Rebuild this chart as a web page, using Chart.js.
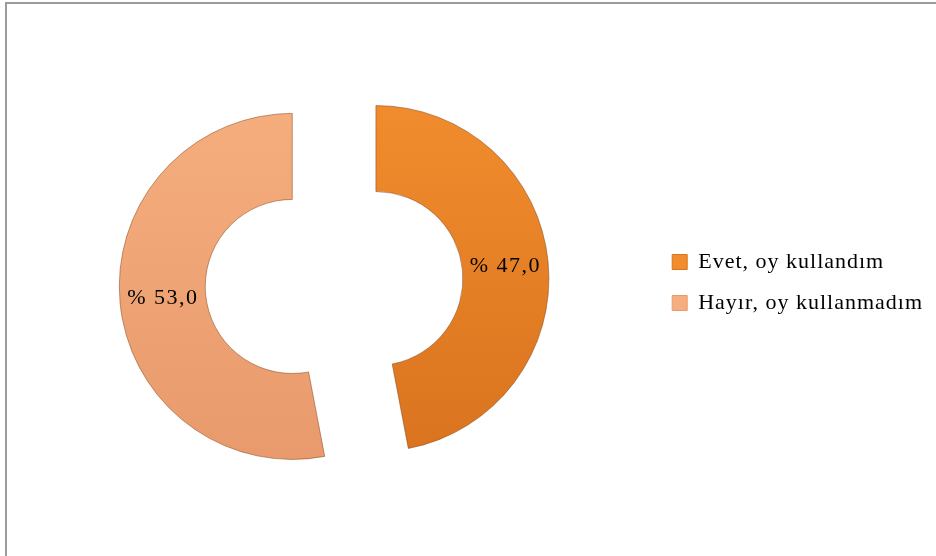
<!DOCTYPE html>
<html>
<head>
<meta charset="utf-8">
<script src="https://cdn.jsdelivr.net/npm/chart.js@4/dist/chart.umd.min.js"></script>
<style>
  body { margin: 0; background: #fff; overflow: hidden; }
  #wrap { position: relative; width: 936px; height: 556px; overflow: hidden; }
  #frame { position: absolute; left: 5px; top: 2px; right: 0; bottom: 0;
           border-top: 2px solid #9b9b9b; border-left: 2px solid #9b9b9b; }
  #voteChart { position: absolute; left: -10px; top: 0; }
</style>
</head>
<body>
<div id="wrap">
  <div id="frame"></div>
  <canvas id="voteChart" width="946" height="556"></canvas>
</div>
<script>
// Oy kullanma durumu (%)
const labels = ["Evet, oy kullandım", "Hayır, oy kullanmadım"];
const shares = [47.0, 53.0];
const colorsTop = ["#F28D2E", "#F6AE7E"];
const colorsBottom = ["#D9731E", "#E89A6C"];
// how far each slice is pulled out of the ring (px)
const explode = [42, 42];

// letter spacing like the original text, reset after every canvas resize
const spacing = {
    id: 'spacing',
    beforeLayout(chart) { chart.ctx.letterSpacing = '1px'; },
    beforeDraw(chart) { chart.ctx.letterSpacing = '1px'; }
};

// pull slices apart without Chart.js' offset (which also grows/trims the arc)
const explodeSlices = {
    id: 'explodeSlices',
    afterDatasetsUpdate(chart) {
        chart.getDatasetMeta(0).data.forEach(function(arc, i) {
            if (arc._exploded) return;
            arc._exploded = true;
            const baseDraw = arc.draw;
            arc.draw = function(ctx, area) {
                const mid = (this.startAngle + this.endAngle) / 2;
                ctx.save();
                ctx.translate(Math.cos(mid) * explode[i], Math.sin(mid) * explode[i]);
                baseDraw.call(this, ctx, area);
                ctx.restore();
            };
        });
    }
};

// "% 47,0" labels in the middle of each slice
const sliceLabels = {
    id: 'sliceLabels',
    afterDatasetsDraw(chart) {
        const ctx = chart.ctx;
        const meta = chart.getDatasetMeta(0);
        ctx.save();
        ctx.letterSpacing = '1.5px';
        ctx.font = '22px "Liberation Serif", "Times New Roman", serif';
        ctx.fillStyle = '#000';
        ctx.textAlign = 'center';
        ctx.textBaseline = 'middle';
        meta.data.forEach(function(arc, i) {
            const p = arc.getProps(['x', 'y', 'startAngle', 'endAngle', 'innerRadius', 'outerRadius']);
            const mid = (p.startAngle + p.endAngle) / 2;
            const r = explode[i] + (p.innerRadius + p.outerRadius) / 2;
            const txt = '% ' + shares[i].toFixed(1).replace('.', ',');
            ctx.fillText(txt, p.x + Math.cos(mid) * r, p.y + Math.sin(mid) * r);
        });
        ctx.restore();
    }
};

function sliceColor(c) {
    const chart = c.chart;
    const i = c.dataIndex;
    if (!chart.chartArea) return colorsTop[i];
    const g = chart.ctx.createLinearGradient(0, 95, 0, 460);
    g.addColorStop(0, colorsTop[i]);
    g.addColorStop(1, colorsBottom[i]);
    return g;
}

let ctx = document.getElementById("voteChart").getContext('2d');
new Chart(ctx, {
    type: 'doughnut',
    data: {
        labels: labels,
        datasets: [{
            data: shares,
            backgroundColor: sliceColor,
            borderColor: "rgba(130,65,20,0.5)",
            borderWidth: 1,
            hoverOffset: 0
        }]
    },
    options: {
        responsive: false,
        animation: false,
        radius: 173,
        cutout: '50.3%',
        layout: { padding: { left: 25, right: 3, top: 9, bottom: 0 } },
        plugins: {
            tooltip: { enabled: false },
            legend: {
                position: 'right',
                labels: {
                    boxWidth: 15,
                    boxHeight: 15,
                    padding: 19,
                    color: '#000',
                    generateLabels(chart) {
                        return labels.map(function(l, i) {
                            return { text: l, fillStyle: colorsTop[i], strokeStyle: colorsBottom[i],
                                     lineWidth: 1, index: i, hidden: false };
                        });
                    },
                    font: { family: '"Liberation Serif", "Times New Roman", serif', size: 22 }
                }
            }
        }
    },
    plugins: [spacing, explodeSlices, sliceLabels]
});
</script>
</body>
</html>
